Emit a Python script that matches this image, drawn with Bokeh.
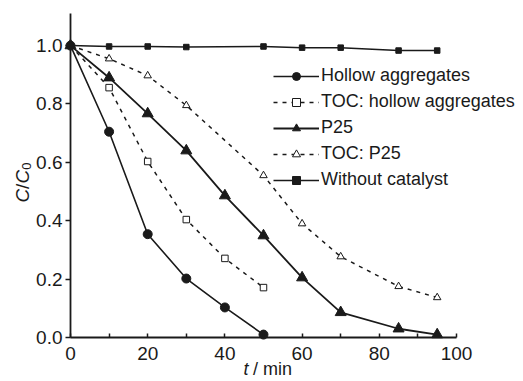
from bokeh.plotting import figure
from bokeh.models import Range1d, FixedTicker, Legend, LegendItem, Label
from bokeh.embed import file_html
from bokeh.resources import INLINE

# ---- data ----
t_hollow = [0, 10, 20, 30, 40, 50]
c_hollow = [1.0, 0.705, 0.354, 0.202, 0.103, 0.01]

t_toc_hollow = [0, 10, 20, 30, 40, 50]
c_toc_hollow = [1.0, 0.856, 0.603, 0.404, 0.271, 0.171]

t_p25 = [0, 10, 20, 30, 40, 50, 60, 70, 85, 95]
c_p25 = [1.0, 0.89, 0.767, 0.64, 0.486, 0.349, 0.205, 0.086, 0.03, 0.01]

t_toc_p25 = [0, 10, 20, 30, 50, 60, 70, 85, 95]
c_toc_p25 = [1.0, 0.955, 0.897, 0.795, 0.555, 0.39, 0.277, 0.175, 0.137]

t_none = [0, 10, 20, 30, 50, 60, 70, 85, 95]
c_none = [1.0, 0.997, 0.997, 0.995, 0.997, 0.993, 0.993, 0.983, 0.983]

x_ticks = [0, 20, 40, 60, 80, 100]
x_minor = [10, 30, 50, 70, 90]
y_ticks = [0.0, 0.2, 0.4, 0.6, 0.8, 1.0]
y_tick_labels = ["0.0", "0.2", "0.4", "0.6", "0.8", "1.0"]

labels = ["Hollow aggregates", "TOC: hollow aggregates", "P25", "TOC: P25", "Without catalyst"]

INK = "#1a1a1a"
FONT = "Liberation Sans"

# frame spans the whole canvas; axes are pinned at x=0 / y=0 and bounded
p = figure(width=523, height=381, output_backend="svg", toolbar_location=None,
           x_range=Range1d(-18.135, 117.36), y_range=Range1d(-0.1507, 1.1545),
           min_border_left=0, min_border_right=0, min_border_top=0, min_border_bottom=0)
p.outline_line_color = None
p.xgrid.visible = False
p.ygrid.visible = False
p.background_fill_color = "white"

xa = p.xaxis[0]
xa.fixed_location = 0
xa.bounds = (0, 100)
xa.ticker = FixedTicker(ticks=x_ticks, minor_ticks=x_minor)
xa.major_tick_in = 4
xa.major_tick_out = 0
xa.minor_tick_in = 4
xa.minor_tick_out = 0
xa.minor_tick_line_color = INK
xa.minor_tick_line_width = 1.5

ya = p.yaxis[0]
ya.fixed_location = 0
ya.bounds = (0, 1.11)
ya.ticker = FixedTicker(ticks=y_ticks)
ya.major_label_overrides = {v: s for v, s in zip(y_ticks, y_tick_labels)}
ya.major_tick_in = 0
ya.major_tick_out = 5
ya.minor_tick_line_color = None

for ax in (xa, ya):
    ax.axis_line_width = 1.8
    ax.axis_line_color = INK
    ax.major_tick_line_color = INK
    ax.major_tick_line_width = 1.5
    ax.major_label_text_font = FONT
    ax.major_label_text_font_size = "19px"
    ax.major_label_text_color = INK
xa.major_label_standoff = 9
ya.major_label_standoff = 3

# series
r1l = p.line(t_hollow, c_hollow, line_color=INK, line_width=1.6)
r1s = p.scatter(t_hollow, c_hollow, marker="circle", size=9, fill_color=INK, line_color=INK)

r2l = p.line(t_toc_hollow, c_toc_hollow, line_color=INK, line_width=1.5, line_dash="4 5")
r2s = p.scatter(t_toc_hollow[1:], c_toc_hollow[1:], marker="square", size=6.5,
                fill_color="white", line_color=INK, line_width=1)

r3l = p.line(t_p25, c_p25, line_color=INK, line_width=1.8)
r3s = p.scatter(t_p25, c_p25, marker="triangle", size=11, fill_color=INK, line_color=INK)

r4l = p.line(t_toc_p25, c_toc_p25, line_color=INK, line_width=1.5, line_dash="4 5")
r4s = p.scatter(t_toc_p25[1:], c_toc_p25[1:], marker="triangle", size=7.5,
                fill_color="white", line_color=INK, line_width=1)

r5l = p.line(t_none, c_none, line_color=INK, line_width=1.5)
r5s = p.scatter(t_none, c_none, marker="square", size=5.5, fill_color=INK, line_color=INK)

legend = Legend(items=[
    LegendItem(label=labels[0], renderers=[r1l, r1s]),
    LegendItem(label=labels[1], renderers=[r2l, r2s]),
    LegendItem(label=labels[2], renderers=[r3l, r3s]),
    LegendItem(label=labels[3], renderers=[r4l, r4s]),
    LegendItem(label=labels[4], renderers=[r5l, r5s]),
], location=(273, 191), padding=0, margin=0, spacing=5,
    glyph_width=46, glyph_height=20, label_height=20, label_standoff=2,
    border_line_alpha=0, background_fill_alpha=0,
    label_text_font=FONT, label_text_font_size="18px", label_text_color=INK)
p.add_layout(legend, "center")

# axis titles
p.add_layout(Label(x=44.8, y=-0.108, text="t", text_font=FONT, text_font_style="italic",
                   text_font_size="18px", text_color=INK, text_baseline="middle", text_align="left"))
p.add_layout(Label(x=47.3, y=-0.108, text="/ min", text_font=FONT,
                   text_font_size="18px", text_color=INK, text_baseline="middle", text_align="left"))

ylab = dict(text_font=FONT, text_color=INK, text_baseline="middle", text_align="left",
            angle=90, angle_units="deg")
p.add_layout(Label(x=-12.4, y=0.4625, text="C", text_font_style="italic", text_font_size="19px", **ylab))
p.add_layout(Label(x=-12.4, y=0.509, text="/", text_font_size="19px", **ylab))
p.add_layout(Label(x=-12.4, y=0.5276, text="C", text_font_style="italic", text_font_size="19px", **ylab))
p.add_layout(Label(x=-11.3, y=0.5745, text="0", text_font_size="13px", **ylab))

open("out.html", "w").write(file_html(p, INLINE))
